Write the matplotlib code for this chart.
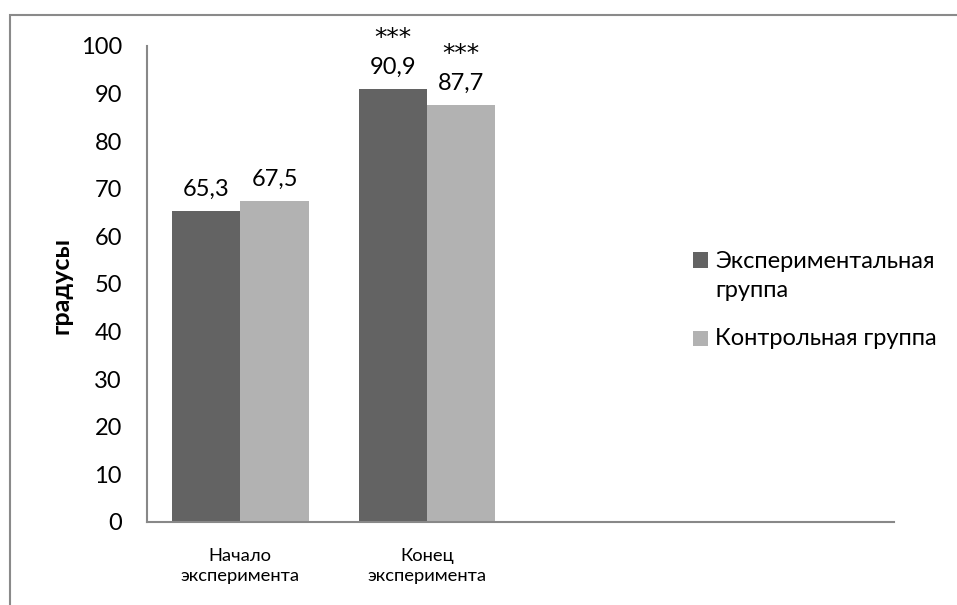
import matplotlib
matplotlib.use("Agg")
import matplotlib.pyplot as plt
from matplotlib.patches import Rectangle
import numpy as np

plt.rcParams['font.family'] = ['Lato', 'DejaVu Sans']

categories = ["Начало\nэксперимента", "Конец\nэксперимента", "", ""]
series_names = ["Экспериментальная\nгруппа", "Контрольная группа"]
exp_values = [65.3, 90.9]
ctrl_values = [67.5, 87.7]
exp_marks = ["", "***"]
ctrl_marks = ["", "***"]
y_ticks = [0, 10, 20, 30, 40, 50, 60, 70, 80, 90, 100]
y_label = "градусы"

col_exp = "#636363"
col_ctrl = "#b2b2b2"
axis_col = "#888888"

W, H = 957, 605
fig = plt.figure(figsize=(W / 100, H / 100), dpi=100)
fig.patch.set_facecolor("white")

# outer chart-area border
fig.patches.append(Rectangle((10 / W, -0.2), 1.5, 1.2 - 15 / H,
                             transform=fig.transFigure, fill=False,
                             edgecolor="#8a8a8a", linewidth=1.5))

ax = fig.add_axes([147 / W, 1 - 522 / H, (894 - 147) / W, (522 - 46) / H])
ax.set_facecolor("none")

x = np.arange(len(categories))
bw = 0.366
n = len(exp_values)
b1 = ax.bar(x[:n] - bw / 2, exp_values, width=bw, color=col_exp, zorder=2)
b2 = ax.bar(x[:n] + bw / 2, ctrl_values, width=bw, color=col_ctrl, zorder=2)

ax.set_xlim(-0.5, len(categories) - 0.5)
ax.set_ylim(0, 100)
ax.set_yticks(y_ticks)
ax.set_yticklabels([str(v) for v in y_ticks], fontsize=17)
ax.set_xticks(x)
ax.set_xticklabels(categories, fontsize=13.2, linespacing=1.3)
ax.tick_params(axis="both", length=0)
ax.tick_params(axis="y", pad=18)
ax.tick_params(axis="x", pad=19)

for s in ["top", "right"]:
    ax.spines[s].set_visible(False)
for s in ["left", "bottom"]:
    ax.spines[s].set_color(axis_col)
    ax.spines[s].set_linewidth(1.5)

fig.text(61 / W, 1 - 285 / H, y_label, fontsize=18, fontweight="bold",
         rotation=90, ha="center", va="center")

def label_bars(bars, vals, marks):
    for rect, v, m in zip(bars, vals, marks):
        cx = rect.get_x() + rect.get_width() / 2
        ax.annotate(f"{v:.1f}".replace(".", ","), (cx, v), xytext=(0, 15),
                    textcoords="offset pixels", ha="center", va="baseline",
                    fontsize=17, annotation_clip=False)
        if m:
            ax.annotate(m, (cx, v), xytext=(0, 44), textcoords="offset pixels",
                        ha="center", va="baseline", fontsize=18,
                        family="DejaVu Sans", annotation_clip=False)

label_bars(b1, exp_values, exp_marks)
label_bars(b2, ctrl_values, ctrl_marks)

# legend: square swatch + label; y of swatch centre and of the last text baseline
leg_items = [(series_names[0], col_exp, 260, 297), (series_names[1], col_ctrl, 338, 345)]
for name, col, ysq, ybase in leg_items:
    fig.patches.append(Rectangle((693 / W, 1 - (ysq + 7.5) / H), 15 / W, 15 / H,
                                 transform=fig.transFigure, facecolor=col,
                                 edgecolor="none"))
    fig.text(715 / W, 1 - ybase / H, name, fontsize=17, ha="left",
             va="baseline", linespacing=1.47)

fig.savefig("out.png", dpi=100)
